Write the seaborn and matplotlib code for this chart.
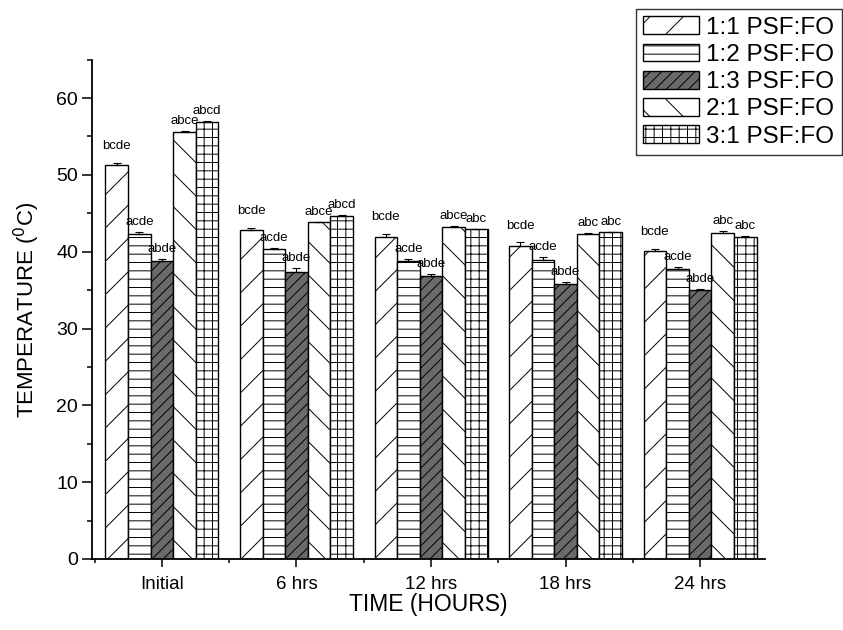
import matplotlib
matplotlib.use("Agg")
import matplotlib.pyplot as plt
from matplotlib.patches import Patch
from matplotlib.ticker import MultipleLocator, FixedLocator
import seaborn as sns
import pandas as pd
import numpy as np

times = ["Initial", "6 hrs", "12 hrs", "18 hrs", "24 hrs"]
ratios = ["1:1 PSF:FO", "1:2 PSF:FO", "1:3 PSF:FO", "2:1 PSF:FO", "3:1 PSF:FO"]

temp_11 = [51.3, 42.8, 41.9, 40.8, 40.1]
temp_12 = [42.3, 40.3, 38.8, 38.9, 37.8]
temp_13 = [38.8, 37.4, 36.8, 35.8, 35.0]
temp_21 = [55.6, 43.8, 43.2, 42.3, 42.4]
temp_31 = [56.9, 44.7, 42.9, 42.5, 41.9]

err_11 = [0.2, 0.3, 0.4, 0.4, 0.2]
err_12 = [0.2, 0.2, 0.2, 0.4, 0.2]
err_13 = [0.2, 0.5, 0.3, 0.3, 0.2]
err_21 = [0.1, 0.1, 0.1, 0.1, 0.3]
err_31 = [0.1, 0.1, 0.1, 0.1, 0.2]

lab_11 = ["bcde", "bcde", "bcde", "bcde", "bcde"]
lab_12 = ["acde", "acde", "acde", "acde", "acde"]
lab_13 = ["abde", "abde", "abde", "abde", "abde"]
lab_21 = ["abce", "abce", "abce", "abc", "abc"]
lab_31 = ["abcd", "abcd", "abc", "abc", "abc"]

temps = [temp_11, temp_12, temp_13, temp_21, temp_31]
errs = [err_11, err_12, err_13, err_21, err_31]
labs = [lab_11, lab_12, lab_13, lab_21, lab_31]

rows = []
for r, vals in zip(ratios, temps):
    for t, v in zip(times, vals):
        rows.append({"time": t, "ratio": r, "temp": v})
df = pd.DataFrame(rows)

sns.set_theme(style="ticks")
plt.rcParams["font.family"] = ["Liberation Sans", "DejaVu Sans"]
plt.rcParams["hatch.linewidth"] = 0.7
plt.rcParams["text.color"] = "black"
plt.rcParams["axes.labelcolor"] = "black"
plt.rcParams["xtick.color"] = "black"
plt.rcParams["ytick.color"] = "black"

fills = ["white", "white", "#6a6a6a", "white", "white"]
hatches = ["/", "--", "///", "\\", "++"]

fig = plt.figure(figsize=(8.43, 6.3), dpi=100)
ax = fig.add_axes([0.1091, 0.1127, 0.798, 0.7927])

sns.barplot(data=df, x="time", y="temp", hue="ratio", order=times,
            hue_order=ratios, palette=fills, edgecolor="black",
            linewidth=1.0, width=0.84, errorbar=None, legend=False,
            saturation=1, ax=ax)

bar_conts = list(ax.containers)
for ci, cont in enumerate(bar_conts):
    for bi, bar in enumerate(cont.patches):
        bar.set_hatch(hatches[ci])
        x = bar.get_x() + bar.get_width() / 2
        h = bar.get_height()
        e = errs[ci][bi]
        ax.errorbar(x, h, yerr=[[0], [e]], fmt="none", ecolor="black",
                    elinewidth=0.8, capsize=3, capthick=0.8)
        off = 2.2 if ci == 0 else 1.3
        ax.text(x, h + e + off, labs[ci][bi], ha="center", va="center",
                fontsize=9.5, color="black")

ax.set_ylim(0, 65)
ax.set_xlim(-0.52, 4.48)
ax.yaxis.set_major_locator(MultipleLocator(10))
ax.yaxis.set_minor_locator(MultipleLocator(5))
ax.xaxis.set_minor_locator(FixedLocator([-0.5, 0.5, 1.5, 2.5, 3.5, 4.5]))
ax.tick_params(axis="y", which="major", direction="out", length=7,
               width=1.1, labelsize=14, pad=3)
ax.tick_params(axis="y", which="minor", direction="out", length=3.5,
               width=1.1)
ax.tick_params(axis="x", which="major", direction="out", length=6,
               width=1.1, labelsize=13.5, pad=6)
ax.tick_params(axis="x", which="minor", direction="out", length=3,
               width=1.1)
for s in ["top", "right"]:
    ax.spines[s].set_visible(False)
for s in ["left", "bottom"]:
    ax.spines[s].set_linewidth(1.3)
    ax.spines[s].set_color("black")

ax.set_xlabel("TIME (HOURS)", fontsize=16.5, labelpad=0)
ax.set_ylabel("TEMPERATURE ($^0$C)", fontsize=16, labelpad=10)

handles = [Patch(facecolor=fills[i], edgecolor="black", hatch=hatches[i],
                 linewidth=1.0, label=ratios[i]) for i in range(5)]
leg = fig.legend(handles=handles, loc="upper right",
                 bbox_to_anchor=(0.9985, 0.9857),
                 fontsize=17.5, frameon=True, fancybox=False, borderaxespad=0,
                 handlelength=2.3, handleheight=0.75, handletextpad=0.3,
                 labelspacing=0.2, borderpad=0.3)
leg.get_frame().set_edgecolor("black")
leg.get_frame().set_linewidth(1.0)

fig.savefig("out.png", dpi=100)
